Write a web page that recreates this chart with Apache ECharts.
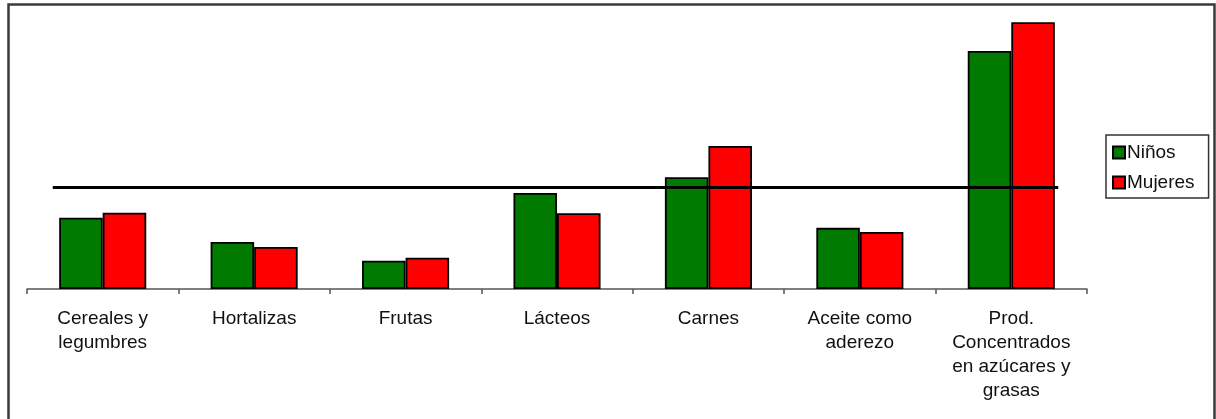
<!DOCTYPE html>
<html lang="es">
<head>
    <meta charset="UTF-8">
    <title>Niños y Mujeres por grupo de alimentos</title>
    <script src="https://cdn.jsdelivr.net/npm/echarts@6/dist/echarts.min.js"></script>
    <style>
        html, body {
            margin: 0;
            padding: 0;
            background: #ffffff;
        }
        #chart {
            width: 1216px;
            height: 419px;
        }
    </style>
</head>
<body>
    <div id="chart"></div>

    <script>
        // Categories (wrapped as in the original)
        const categories = [
            'Cereales y\nlegumbres',
            'Hortalizas',
            'Frutas',
            'Lácteos',
            'Carnes',
            'Aceite como\naderezo',
            'Prod.\nConcentrados\nen azúcares y\ngrasas'
        ];

        // Values (reference line = 100)
        const ninos   = [70.5, 46.5, 28, 95, 110.5, 60.5, 235.5];
        const mujeres = [75.5, 41.5, 31, 75, 141.5, 56.5, 264];

        // Horizontal reference line: level and span (in category units)
        const refLevel = 100.5;
        const refSpan = [0.17, 6.81];

        const chart = echarts.init(document.getElementById('chart'));

        const barBorder = { borderColor: '#000000', borderWidth: 1.8 };

        chart.setOption({
            animation: false,
            backgroundColor: '#ffffff',
            textStyle: { fontFamily: 'Liberation Sans, Arial, sans-serif' },
            graphic: [{
                type: 'rect',
                shape: { x: 8.5, y: 4.5, width: 1206, height: 440 },
                style: { fill: 'none', stroke: '#3a3a3a', lineWidth: 2.5 },
                silent: true,
                z: 100
            }],
            legend: {
                orient: 'vertical',
                left: 1106,
                top: 135,
                padding: [7, 14, 5, 6],
                borderColor: '#333333',
                borderWidth: 1.5,
                itemWidth: 12,
                itemHeight: 12,
                itemGap: 9,
                icon: 'rect',
                data: ['Niños', 'Mujeres'],
                textStyle: {
                    color: '#111111',
                    fontSize: 19,
                    lineHeight: 19,
                    padding: [2, 0, 0, -3]
                }
            },
            grid: {
                left: 27,
                right: 129,
                top: 6,
                bottom: 130,
                containLabel: false
            },
            xAxis: [{
                type: 'category',
                data: categories,
                axisLine: { lineStyle: { color: '#555555', width: 1.5 } },
                axisTick: { show: true, length: 5, lineStyle: { color: '#555555', width: 1.5 } },
                axisLabel: {
                    interval: 0,
                    margin: 18,
                    color: '#111111',
                    fontSize: 19,
                    lineHeight: 24,
                    align: 'center'
                }
            }, {
                type: 'value',
                min: 0,
                max: 7,
                show: false
            }],
            yAxis: {
                type: 'value',
                min: 0,
                max: 280,
                show: false,
                splitLine: { show: false }
            },
            series: [{
                name: 'Niños',
                type: 'bar',
                data: ninos,
                barGap: '0%',
                barCategoryGap: '42.5%',
                itemStyle: Object.assign({ color: '#007a00' }, barBorder)
            }, {
                name: 'Mujeres',
                type: 'bar',
                data: mujeres,
                itemStyle: Object.assign({ color: '#ff0000' }, barBorder)
            }, {
                name: 'ref',
                type: 'line',
                xAxisIndex: 1,
                data: refSpan.map(x => [x, refLevel]),
                showSymbol: false,
                symbol: 'none',
                lineStyle: { color: '#000000', width: 3 },
                z: 10,
                silent: true
            }]
        });
    </script>
</body>
</html>
